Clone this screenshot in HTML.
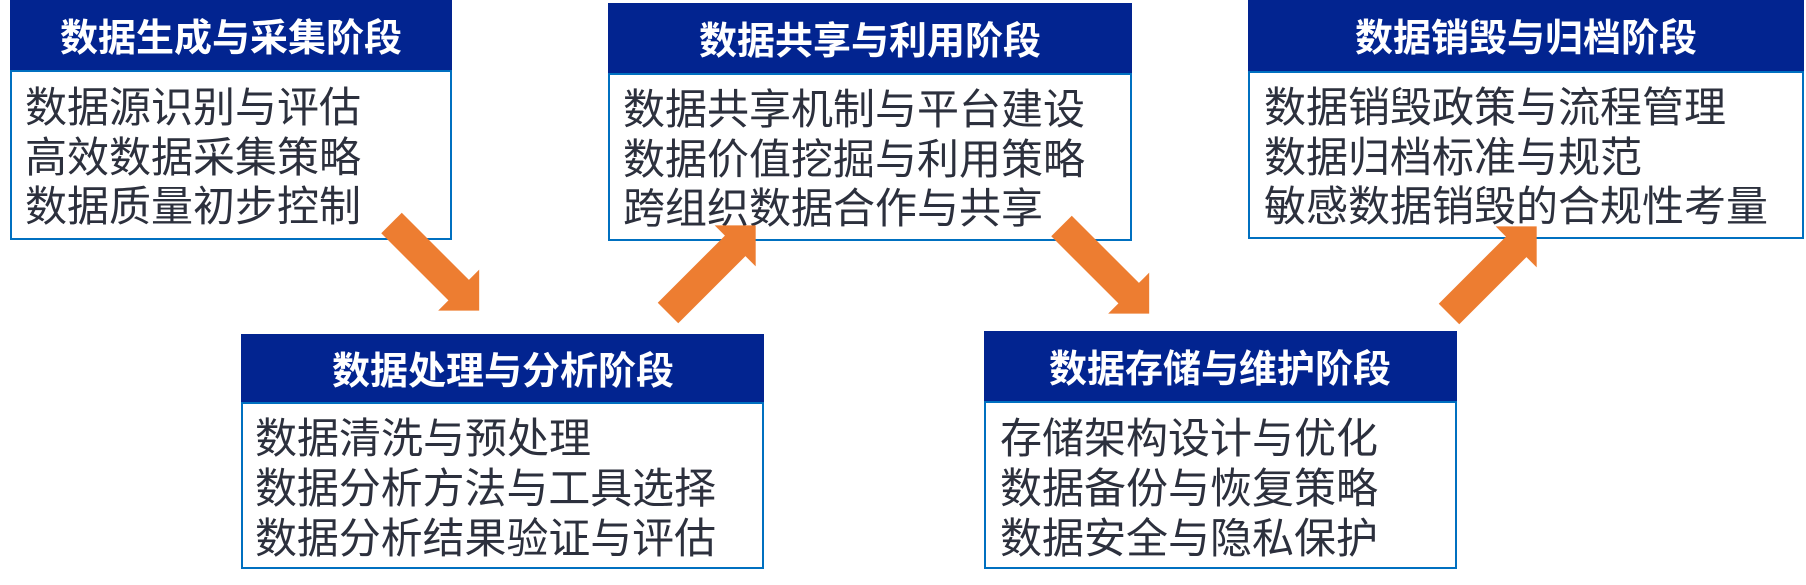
<!DOCTYPE html>
<html>
<head>
<meta charset="utf-8">
<style>
  html, body { margin: 0; padding: 0; background: #ffffff; }
  body { width: 1806px; height: 585px; overflow: hidden; }
  svg { display: block; }
  .h { font-family: "Liberation Sans", "Noto Sans CJK SC", "WenQuanYi Zen Hei", sans-serif; font-size: 38px; font-weight: 700; fill: #ffffff; }
  .t { font-family: "Liberation Sans", "Noto Sans CJK SC", "WenQuanYi Zen Hei", sans-serif; font-size: 42px; fill: #2c303d; }
</style>
</head>
<body>
<svg width="1806" height="585" viewBox="0 0 1806 585" xmlns="http://www.w3.org/2000/svg">
  <rect x="0" y="0" width="1806" height="585" fill="#ffffff"/>

  <!-- Box 1 -->
  <rect x="10" y="0" width="442" height="71" fill="#022490"/>
  <rect x="11" y="71" width="440" height="168" fill="#ffffff" stroke="#0070c0" stroke-width="2"/>
  <text class="h" x="231" y="51" text-anchor="middle">数据生成与采集阶段</text>
  <text class="t" x="25" y="122">数据源识别与评估</text>
  <text class="t" x="25" y="172">高效数据采集策略</text>
  <text class="t" x="25" y="221">数据质量初步控制</text>

  <!-- Box 2 -->
  <rect x="241" y="334" width="523" height="69" fill="#022490"/>
  <rect x="242" y="403" width="521" height="165" fill="#ffffff" stroke="#0070c0" stroke-width="2"/>
  <text class="h" x="503" y="384" text-anchor="middle">数据处理与分析阶段</text>
  <text class="t" x="255" y="453">数据清洗与预处理</text>
  <text class="t" x="255" y="503" textLength="461" lengthAdjust="spacingAndGlyphs">数据分析方法与工具选择</text>
  <text class="t" x="255" y="553" textLength="461" lengthAdjust="spacingAndGlyphs">数据分析结果验证与评估</text>

  <!-- Box 3 -->
  <rect x="608" y="3" width="524" height="71" fill="#022490"/>
  <rect x="609" y="74" width="522" height="166" fill="#ffffff" stroke="#0070c0" stroke-width="2"/>
  <text class="h" x="870" y="54" text-anchor="middle">数据共享与利用阶段</text>
  <text class="t" x="623" y="124">数据共享机制与平台建设</text>
  <text class="t" x="623" y="174">数据价值挖掘与利用策略</text>
  <text class="t" x="623" y="223">跨组织数据合作与共享</text>

  <!-- Box 4 -->
  <rect x="984" y="331" width="473" height="71" fill="#022490"/>
  <rect x="985" y="402" width="471" height="166" fill="#ffffff" stroke="#0070c0" stroke-width="2"/>
  <text class="h" x="1220" y="382" text-anchor="middle">数据存储与维护阶段</text>
  <text class="t" x="1000" y="453">存储架构设计与优化</text>
  <text class="t" x="1000" y="503">数据备份与恢复策略</text>
  <text class="t" x="1000" y="553">数据安全与隐私保护</text>

  <!-- Box 5 -->
  <rect x="1248" y="0" width="556" height="72" fill="#022490"/>
  <rect x="1249" y="72" width="554" height="166" fill="#ffffff" stroke="#0070c0" stroke-width="2"/>
  <text class="h" x="1526" y="51" text-anchor="middle">数据销毁与归档阶段</text>
  <text class="t" x="1264" y="122">数据销毁政策与流程管理</text>
  <text class="t" x="1264" y="172">数据归档标准与规范</text>
  <text class="t" x="1264" y="221">敏感数据销毁的合规性考量</text>

  <!-- Arrows -->
  <g fill="#ed7d31">
    <polygon transform="translate(391.5,223) rotate(45)" points="0,-14.5 95,-14.5 95,-29 124,0 95,29 95,14.5 0,14.5"/>
    <polygon transform="translate(668,313) rotate(-45)" points="0,-14.5 95,-14.5 95,-29 124,0 95,29 95,14.5 0,14.5"/>
    <polygon transform="translate(1061.5,226) rotate(45)" points="0,-14.5 95,-14.5 95,-29 124,0 95,29 95,14.5 0,14.5"/>
    <polygon transform="translate(1449,314) rotate(-45)" points="0,-14.5 95,-14.5 95,-29 124,0 95,29 95,14.5 0,14.5"/>
  </g>
</svg>
</body>
</html>
